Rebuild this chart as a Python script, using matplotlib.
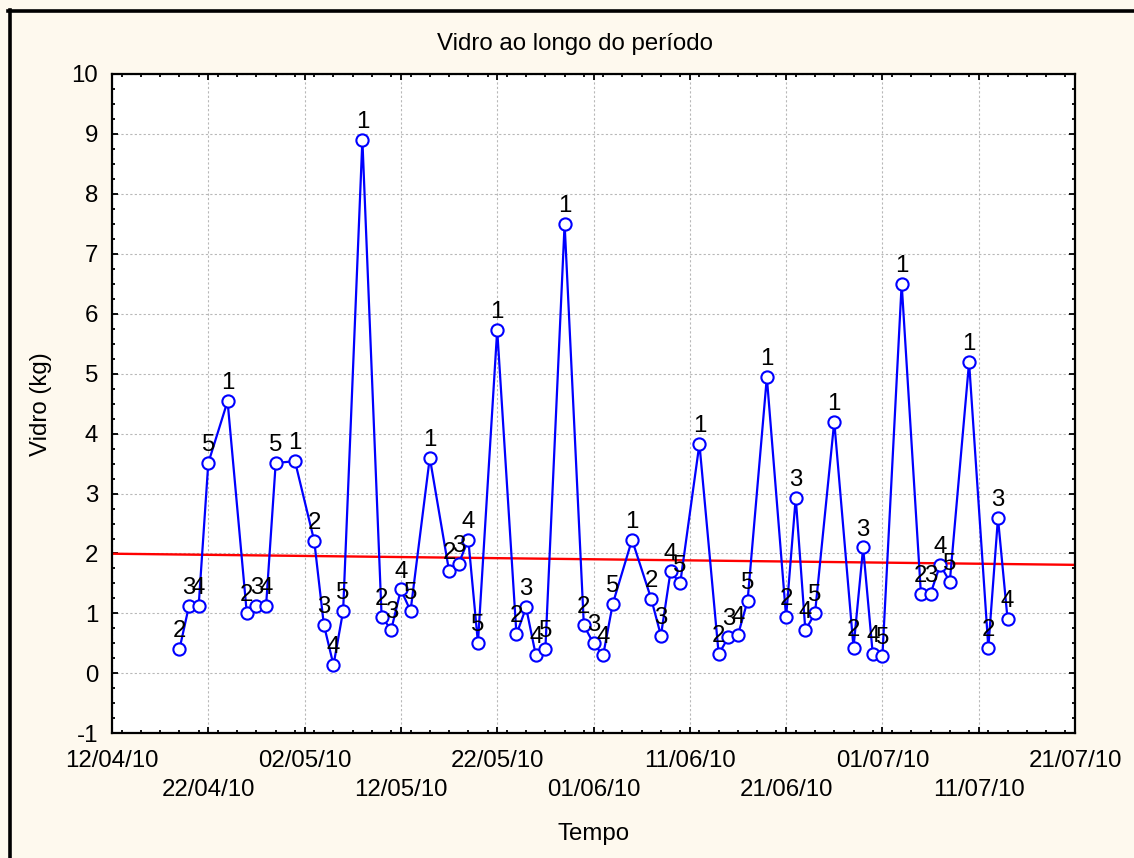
import matplotlib

matplotlib.use("Agg")

import matplotlib.dates as mdates
import matplotlib.pyplot as plt
import numpy as np
import pandas as pd
from matplotlib.lines import Line2D
from matplotlib.ticker import MultipleLocator

plt.rcParams["font.family"] = ["Liberation Sans", "DejaVu Sans"]
plt.rcParams["axes.unicode_minus"] = False

# collection days (offset from 12/04/10) and weight of glass collected
start_date = "2010-04-12"
day_offsets = [
    7, 8, 9, 10, 12,
    14, 15, 16, 17, 19,
    21, 22, 23, 24, 26,
    28, 29, 30, 31, 33,
    35, 36, 37, 38, 40,
    42, 43, 44, 45, 47,
    49, 50, 51, 52, 54,
    56, 57, 58, 59, 61,
    63, 64, 65, 66, 68,
    70, 71, 72, 73, 75,
    77, 78, 79, 80, 82,
    84, 85, 86, 87, 89,
    91, 92, 93,
]
vidro_kg = [
    0.40, 1.13, 1.13, 3.51, 4.54,
    1.00, 1.13, 1.13, 3.51, 3.54,
    2.21, 0.81, 0.14, 1.04, 8.90,
    0.94, 0.73, 1.40, 1.04, 3.60,
    1.71, 1.83, 2.23, 0.51, 5.73,
    0.65, 1.10, 0.31, 0.40, 7.50,
    0.80, 0.50, 0.30, 1.16, 2.23,
    1.24, 0.63, 1.70, 1.50, 3.83,
    0.32, 0.60, 0.64, 1.21, 4.94,
    0.94, 2.93, 0.72, 1.00, 4.20,
    0.43, 2.10, 0.32, 0.29, 6.50,
    1.33, 1.33, 1.81, 1.53, 5.19,
    0.43, 2.59, 0.90,
]
dia_labels = [
    2, 3, 4, 5, 1,
    2, 3, 4, 5, 1,
    2, 3, 4, 5, 1,
    2, 3, 4, 5, 1,
    2, 3, 4, 5, 1,
    2, 3, 4, 5, 1,
    2, 3, 4, 5, 1,
    2, 3, 4, 5, 1,
    2, 3, 4, 5, 1,
    2, 3, 4, 5, 1,
    2, 3, 4, 5, 1,
    2, 3, 4, 5, 1,
    2, 3, 4,
]
tick_dates = [
    "2010-04-12", "2010-04-22", "2010-05-02", "2010-05-12", "2010-05-22", "2010-06-01",
    "2010-06-11", "2010-06-21", "2010-07-01", "2010-07-11", "2010-07-21",
]

dates = pd.to_datetime(start_date) + pd.to_timedelta(day_offsets, unit="D")
x = mdates.date2num(dates)
y = np.array(vidro_kg)
ticks = mdates.date2num(pd.to_datetime(tick_dates))

W, H = 1134, 858
bg = "#FEF9EE"
fig = plt.figure(figsize=(W / 100, H / 100), dpi=100, facecolor=bg)
ax = fig.add_axes([112 / W, 1 - 733.3 / H, 963 / W, 659.3 / H])
ax.set_facecolor("white")

fs = 17.3

ax.plot(x, y, color="#0000FF", lw=1.6, marker="o", ms=8.8, mfc="white", mec="#0000FF", mew=1.5, zorder=3)
for xi, yi, lab in zip(x, y, dia_labels):
    ax.annotate(str(lab), (xi, yi), xytext=(0, 5), textcoords="offset points",
                ha="center", va="bottom", fontsize=fs, color="black", zorder=4)

# linear trend
coef = np.polyfit(x, y, 1)
xl = np.array([ticks[0], ticks[-1]])
ax.plot(xl, np.polyval(coef, xl), color="#FF0000", lw=1.7, zorder=2)

ax.set_xlim(ticks[0], ticks[-1])
ax.set_ylim(-1, 10)
ax.set_xticks(ticks)
ax.set_xticklabels([
    ("" if i % 2 == 0 else "\n") + pd.to_datetime(d).strftime("%d/%m/%y")
    for i, d in enumerate(tick_dates)
], linespacing=1.4)
ax.xaxis.set_minor_locator(MultipleLocator(2))
ax.yaxis.set_major_locator(MultipleLocator(1))
ax.yaxis.set_minor_locator(MultipleLocator(0.25))

ax.tick_params(which="both", direction="in", top=True, right=True, width=1.3, color="black")
ax.tick_params(which="major", length=4.5, labelsize=fs)
ax.tick_params(which="minor", length=2.5)
ax.tick_params(axis="x", which="major", pad=12)
ax.tick_params(axis="y", which="major", pad=10)
for s in ax.spines.values():
    s.set_linewidth(1.6)

ax.grid(True, which="major", ls=(0, (2, 2)), lw=0.8, color="#B8B8B8", zorder=0)

ax.set_title("Vidro ao longo do período", fontsize=fs, x=0.481, pad=17)
ax.set_xlabel("Tempo", fontsize=fs)
ax.set_ylabel("Vidro (kg)", fontsize=fs)
ax.xaxis.set_label_coords(0.5, -0.136)
ax.yaxis.set_label_coords(-0.0623, 0.5)

# outer frame (left and top edges)
fig.add_artist(Line2D([9.5 / W, 9.5 / W], [0, 1 - 9.5 / H], color="black", lw=2.6, transform=fig.transFigure))
fig.add_artist(Line2D([8 / W, 1], [1 - 11 / H, 1 - 11 / H], color="black", lw=2.6, transform=fig.transFigure))

fig.savefig("out.png", dpi=100, facecolor=bg)
